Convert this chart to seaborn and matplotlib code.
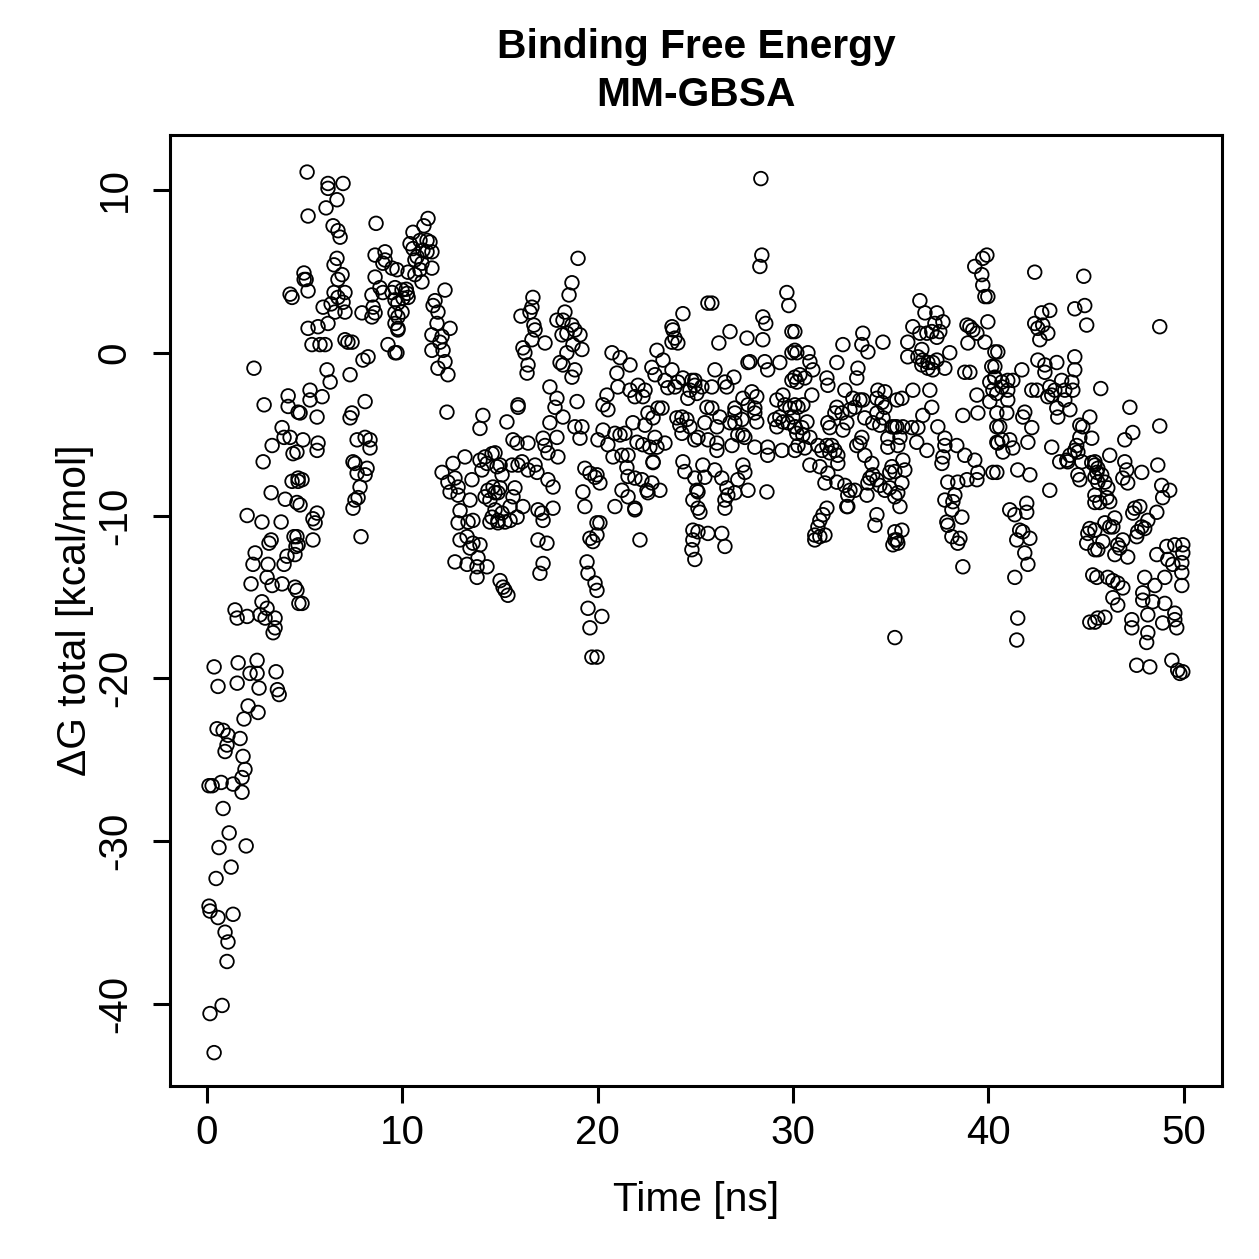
import matplotlib
matplotlib.use("Agg")
import matplotlib.pyplot as plt
import seaborn as sns
import pandas as pd

# (time [ns], dG total [kcal/mol]), grouped by time window
seg_00_05 = [
    (0.36, -19.3), (1.59, -19.05), (2.56, -18.9), (2.2, -19.7), (2.56, -19.7), (0.56, -20.5),
    (1.54, -20.3), (2.66, -20.6), (2.1, -21.7), (2.61, -22.1), (1.89, -22.5), (0.51, -23.1),
    (0.82, -23.2), (1.07, -23.5), (1.69, -23.7), (1.02, -24.1), (0.92, -24.5), (1.84, -24.8),
    (1.94, -25.6), (1.79, -26.1), (0.26, -26.6), (0.1, -26.6), (0.72, -26.4), (1.33, -26.5),
    (1.79, -27.0), (0.82, -28.0), (1.13, -29.5), (0.61, -30.4), (2.0, -30.3), (1.23, -31.6),
    (0.46, -32.3), (0.1, -34.0), (0.15, -34.3), (0.56, -34.7), (1.33, -34.5), (0.92, -35.6),
    (1.07, -36.2), (1.02, -37.4), (0.77, -40.1), (0.15, -40.6), (0.36, -43.0),
    (3.53, -19.6), (3.6, -20.7), (3.69, -21.0), (3.38, -17.2),
    (2.4, -0.95), (2.92, -3.2), (4.15, -2.65), (4.15, -3.3), (4.66, -3.65), (3.84, -4.6),
    (3.94, -5.2), (4.25, -5.2), (3.33, -5.7), (2.87, -6.7), (4.4, -6.2), (4.35, -7.9),
    (4.66, -7.7), (3.28, -8.6), (4.0, -9.0), (4.6, -9.2), (2.05, -10.0), (2.81, -10.4),
    (3.79, -10.4), (3.28, -11.5), (3.17, -11.7), (4.45, -11.3), (2.46, -12.3), (4.55, -11.9),
    (2.35, -13.0), (3.12, -13.0), (3.94, -13.0), (4.09, -12.5), (4.5, -12.4), (2.25, -14.2),
    (3.07, -13.8), (3.33, -14.3), (3.84, -14.2), (4.5, -14.4), (2.81, -15.3), (4.7, -15.4),
    (1.43, -15.8), (1.54, -16.3), (2.05, -16.2), (2.71, -16.1), (3.07, -15.7), (2.97, -16.3),
    (3.48, -16.3), (3.48, -16.9), (4.25, 3.6), (4.35, 3.4),
    (4.96, 4.9), (4.97, 4.5), (4.91, -5.35), (4.6, -6.1), (4.86, -7.8), (4.66, -7.9),
    (4.76, -9.35), (4.6, -11.3), (4.66, -11.8), (4.6, -14.6), (4.86, -15.4), (4.76, -3.7),
]

seg_05_10 = [
    (5.12, 11.1), (6.19, 10.4), (6.19, 10.1), (6.96, 10.4), (6.65, 9.4), (6.09, 8.9),
    (5.17, 8.4), (6.45, 7.8), (6.7, 7.5), (6.81, 7.1), (8.65, 7.95), (6.65, 5.8),
    (6.5, 5.4), (6.91, 4.8), (6.7, 4.5), (5.07, 4.5), (5.17, 3.8), (8.6, 6.0),
    (9.11, 6.2), (9.0, 5.5), (9.47, 5.2), (8.6, 4.65), (8.85, 4.0), (9.11, 5.7),
    (6.5, 3.7), (7.06, 3.7), (6.96, 3.1), (6.7, 3.4), (6.35, 3.0), (5.94, 2.8),
    (6.55, 2.5), (7.06, 2.5), (8.44, 3.55), (8.5, 2.8), (8.6, 2.45), (8.44, 2.2),
    (7.93, 2.45), (9.0, 3.7), (9.47, 3.7), (9.62, 3.25), (9.62, 2.45), (9.62, 1.8),
    (9.77, 1.4), (9.26, 0.5), (9.62, 0.0), (5.17, 1.5), (5.68, 1.6), (6.19, 1.8),
    (5.37, 0.5), (5.78, 0.5), (6.04, 0.5), (7.06, 0.8), (7.21, 0.65), (7.42, 0.65),
    (7.98, -0.45), (8.24, -0.25), (6.14, -1.05), (6.3, -1.8), (7.32, -1.35), (5.27, -2.3),
    (5.27, -2.9), (5.89, -2.7), (8.09, -3.0), (7.42, -3.7), (7.32, -4.0), (5.63, -3.95),
    (5.68, -5.55), (5.63, -6.0), (7.68, -5.35), (8.09, -5.2), (8.34, -5.35), (8.34, -5.85),
    (7.47, -6.7), (7.57, -6.8), (8.19, -7.1), (8.09, -7.5), (7.68, -7.4), (7.83, -8.25),
    (7.57, -9.05), (7.73, -8.9), (7.47, -9.55), (5.42, -10.2), (5.63, -9.85), (5.53, -10.45),
    (5.42, -11.5), (7.88, -11.3),
    (11.31, 8.25), (9.72, 5.1), (9.62, 4.0), (9.98, 3.85), (9.77, 3.05), (9.98, 2.5),
    (9.77, 2.2), (9.77, 1.5), (9.72, 0.0),
]

seg_10_15 = [
    (11.1, 7.8), (10.54, 7.4), (10.39, 6.7), (10.54, 6.4), (10.9, 6.9), (11.26, 6.9),
    (11.41, 6.8), (11.05, 6.3), (10.75, 5.9), (11.26, 6.2), (11.51, 6.2), (10.64, 5.7),
    (11.0, 5.5), (11.51, 5.2), (10.9, 5.1), (10.64, 4.8), (11.0, 4.35), (10.29, 4.95),
    (10.24, 3.65), (10.29, 3.4), (10.03, 3.35), (10.2, 3.9),
    (12.18, 3.85), (11.67, 3.2), (11.57, 2.9), (11.82, 2.5), (11.77, 1.8), (12.44, 1.5),
    (11.51, 1.1), (12.03, 1.0), (11.92, 0.65), (11.51, 0.15), (12.08, 0.15), (12.18, -0.55),
    (11.82, -0.95), (12.33, -1.35), (12.28, -3.65), (14.12, -3.85), (13.97, -4.65),
    (12.03, -7.35), (12.59, -6.8), (13.2, -6.4), (12.33, -7.95), (12.69, -7.7), (12.85, -8.25),
    (13.56, -7.8), (12.44, -8.55), (12.85, -8.75), (13.46, -9.05), (12.95, -9.7), (12.85, -10.45),
    (13.36, -10.4), (13.61, -10.3), (12.95, -11.5), (13.31, -11.3), (13.61, -11.7), (13.97, -11.8),
    (13.46, -12.0), (12.69, -12.85), (13.31, -13.0), (13.82, -13.15), (14.33, -13.15), (13.82, -13.8),
    (13.87, -12.6), (13.97, -6.6), (14.23, -6.4), (14.59, -6.2), (14.33, -6.8), (14.84, -7.0),
    (14.07, -7.2), (14.38, -8.45), (14.64, -8.25), (14.74, -8.6), (14.23, -8.85), (14.48, -9.05),
    (14.74, -9.65), (14.59, -10.1), (14.48, -10.4), (14.89, -10.45), (15.0, -14.0),
    (14.74, -6.15), (14.89, -8.6), (14.89, -10.3),
]

seg_15_20 = [
    (18.99, 5.8), (18.68, 4.3), (18.53, 3.55), (16.68, 3.4), (16.63, 2.8), (16.53, 2.5),
    (16.07, 2.25), (16.73, 1.7), (16.79, 1.4), (16.63, 0.8), (17.3, 0.6), (16.17, 0.3),
    (16.27, 0.0), (16.43, -0.75), (16.38, -1.25), (17.91, 2.0), (18.32, 2.5), (18.22, 2.0),
    (18.68, 1.7), (18.83, 1.4), (18.17, 1.1), (18.42, 1.2), (19.09, 1.1), (18.73, 0.5),
    (19.19, 0.2), (18.42, 0.0), (18.07, -0.6), (18.22, -0.75), (18.83, -1.05), (18.68, -1.5),
    (17.55, -2.1), (17.91, -2.8), (17.81, -3.35), (18.22, -3.95), (17.55, -4.3), (18.94, -3.0),
    (18.83, -4.55), (19.19, -4.55), (19.09, -5.25), (15.92, -3.2), (15.92, -3.35), (15.35, -4.25),
    (15.66, -5.35), (15.87, -5.55), (16.43, -5.55), (17.2, -5.25), (17.3, -5.7), (17.91, -5.2),
    (17.45, -6.15), (17.96, -6.4), (15.0, -6.9), (15.1, -7.5), (15.61, -6.9), (16.12, -6.7),
    (15.92, -6.9), (16.43, -7.2), (16.89, -7.35), (16.79, -6.9), (15.0, -8.3), (15.76, -8.3),
    (15.66, -8.85), (15.51, -9.45), (16.17, -9.45), (15.1, -9.85), (15.25, -10.4), (15.51, -10.3),
    (15.87, -10.1), (16.94, -9.65), (17.2, -10.3), (17.14, -9.85), (17.71, -9.55), (17.45, -7.8),
    (17.71, -8.25), (16.94, -11.5), (17.4, -11.7), (17.2, -12.95), (17.04, -13.55), (15.15, -14.4),
    (15.25, -14.6), (15.4, -14.9), (19.34, -7.1), (19.6, -7.4), (19.86, -7.65), (19.24, -8.55),
    (19.34, -9.45), (19.96, -10.45), (19.6, -11.4), (19.75, -11.6), (19.45, -12.85), (19.5, -13.55),
    (19.86, -14.15), (19.96, -14.6), (19.5, -15.7), (19.6, -16.9), (19.7, -18.7), (19.96, -18.7),
    (20.21, -16.2),
]

seg_20_25 = [
    (24.36, 2.4), (23.8, 1.6), (23.85, 1.4), (23.95, 0.9), (24.1, 0.6), (23.8, 0.65),
    (20.73, 0.0), (21.14, -0.3), (21.65, -0.75), (23.03, 0.15), (23.34, -0.45), (22.77, -0.9),
    (23.8, -1.05), (22.93, -1.35), (20.98, -1.25), (21.03, -2.1), (21.65, -2.3), (22.06, -2.0),
    (22.42, -2.3), (22.31, -2.7), (21.9, -2.7), (23.44, -1.7), (23.59, -2.15), (23.95, -2.1),
    (24.1, -1.8), (24.36, -1.55), (24.82, -1.7), (24.72, -2.3), (24.61, -2.8), (24.97, -2.0),
    (20.47, -2.6), (20.27, -3.2), (20.52, -3.5), (23.29, -3.4), (23.08, -3.4), (22.57, -3.7),
    (22.83, -4.0), (22.42, -4.45), (21.8, -4.3), (21.39, -4.95), (21.14, -5.05), (20.88, -4.95),
    (20.27, -4.75), (20.01, -5.35), (20.52, -5.65), (20.78, -6.4), (21.24, -6.3), (21.55, -6.3),
    (22.01, -5.5), (22.31, -5.65), (22.67, -5.8), (23.03, -5.8), (22.93, -5.2), (23.44, -5.55),
    (24.05, -4.0), (24.31, -3.95), (24.56, -4.1), (24.2, -4.45), (24.72, -4.55), (24.31, -4.95),
    (24.97, -5.35), (24.36, -6.7), (24.46, -7.3), (22.83, -6.7), (22.83, -6.75), (21.49, -7.05),
    (21.55, -7.6), (21.9, -7.7), (22.26, -7.8), (21.24, -8.45), (21.55, -8.85), (21.9, -9.55),
    (21.9, -9.65), (22.52, -8.45), (22.77, -8.0), (23.18, -8.45), (22.57, -8.6), (20.88, -9.45),
    (19.96, -7.5), (20.11, -8.0), (24.97, -7.7), (25.07, -8.45), (24.87, -9.05), (25.13, -9.55),
    (20.11, -10.45), (19.96, -11.2), (22.16, -11.5), (24.87, -10.9), (24.87, -11.5), (24.82, -12.1),
]

seg_25_30 = [
    (28.35, 10.7), (28.4, 6.0), (28.3, 5.3), (25.64, 3.05), (25.84, 3.05), (29.68, 3.7),
    (29.78, 2.9), (28.45, 2.2), (28.6, 1.8), (26.77, 1.3), (27.64, 0.9), (28.45, 0.8),
    (26.2, 0.6), (29.94, 1.3), (27.69, -0.6), (27.79, -0.55), (28.55, -0.55), (28.7, -1.05),
    (29.32, -0.6), (29.94, 0.0), (30.09, 0.15), (29.94, -1.7), (30.09, -1.5), (26.0, -1.05),
    (26.97, -1.5), (26.51, -1.8), (26.61, -2.1), (24.97, -1.7), (25.33, -2.1), (25.84, -2.1),
    (25.07, -2.5), (27.89, -2.4), (28.14, -2.7), (27.43, -2.8), (27.69, -3.2), (27.02, -3.4),
    (28.04, -3.4), (28.04, -3.7), (27.02, -3.7), (27.38, -4.1), (28.14, -4.25), (25.59, -3.35),
    (25.84, -3.4), (26.25, -3.95), (25.48, -4.3), (26.1, -4.55), (26.77, -4.3), (27.02, -4.3),
    (29.17, -2.9), (29.48, -2.6), (29.58, -3.2), (29.32, -3.95), (29.07, -4.1), (29.48, -4.25),
    (29.17, -4.55), (29.73, -4.3), (29.99, -3.95), (30.09, -4.55), (30.09, -3.2), (29.84, -3.4),
    (25.13, -5.2), (25.64, -5.35), (26.1, -5.55), (26.1, -6.0), (26.87, -5.7), (27.17, -5.05),
    (27.43, -5.05), (27.53, -5.2), (28.04, -5.8), (28.7, -5.8), (28.7, -6.3), (29.43, -6.0),
    (30.09, -6.0), (25.38, -6.9), (25.48, -7.65), (25.99, -7.2), (26.35, -7.7), (26.61, -8.3),
    (26.51, -9.05), (26.66, -8.75), (27.17, -7.8), (27.43, -6.9), (27.53, -7.35), (27.69, -8.45),
    (27.02, -8.6), (28.66, -8.55), (25.13, -8.55), (25.23, -9.8), (26.51, -9.55), (25.13, -11.0),
    (25.64, -11.1), (26.35, -11.1), (26.51, -11.9), (24.97, -12.7),
]

seg_30_35 = [
    (33.57, 1.2), (33.52, 0.5), (33.83, 0.05), (34.6, 0.65), (32.55, 0.5), (32.24, -0.6),
    (33.32, -0.95), (33.26, -1.55), (30.09, 1.3), (30.19, 0.0), (30.76, 0.0), (30.86, -0.55),
    (31.01, -1.05), (30.35, -1.35), (30.6, -1.55), (30.19, -1.8), (30.25, -3.35), (30.96, -2.6),
    (30.5, -3.2), (31.73, -1.55), (31.78, -2.0), (32.65, -2.3), (32.24, -3.35), (32.14, -3.7),
    (32.5, -3.7), (32.75, -4.3), (31.78, -4.3), (31.88, -4.6), (32.55, -4.75), (33.06, -2.8),
    (33.42, -2.9), (33.57, -2.9), (33.16, -3.35), (32.91, -3.5), (33.67, -4.0), (34.08, -4.3),
    (34.44, -4.45), (33.52, -5.2), (33.26, -5.7), (33.42, -5.55), (34.34, -2.3), (34.7, -2.4),
    (34.29, -2.8), (34.55, -3.05), (34.7, -3.35), (34.29, -3.7), (34.6, -4.0), (35.06, -4.55),
    (35.31, -4.55), (34.85, -5.25), (35.36, -5.7), (35.31, -2.9),
    (30.09, -4.55), (30.45, -4.6), (30.71, -4.25), (30.19, -4.95), (30.5, -5.05), (30.25, -5.7),
    (30.6, -5.85), (30.86, -5.2), (31.27, -5.7), (31.47, -6.0), (31.73, -5.7), (31.98, -5.7),
    (32.14, -6.0), (31.88, -6.15), (32.29, -6.3), (32.29, -6.8), (30.86, -6.9), (31.37, -7.0),
    (31.78, -7.4), (31.63, -8.0), (32.24, -7.95), (32.65, -8.15), (32.91, -8.45), (33.16, -8.45),
    (32.8, -8.75), (32.75, -9.45), (33.78, -8.75), (33.67, -6.3), (34.03, -6.8), (33.93, -7.7),
    (34.08, -7.5), (34.29, -7.8), (33.83, -8.0), (34.44, -8.15), (34.7, -8.45), (34.95, -8.3),
    (35.21, -8.85), (35.06, -7.0), (35.21, -7.3), (34.95, -7.35), (34.85, -5.8),
    (31.73, -9.55), (31.53, -9.95), (31.37, -10.3), (31.27, -10.7), (31.11, -11.2), (31.11, -11.5),
    (31.37, -11.3), (31.63, -11.2), (32.8, -9.45), (34.29, -9.95), (34.19, -10.6), (35.21, -11.0),
    (35.21, -11.5), (35.11, -11.8), (35.21, -17.5),
]

seg_35_40 = [
    (39.92, 6.0), (39.71, 5.8), (39.3, 5.3), (39.66, 4.8), (39.71, 4.15), (39.82, 3.45),
    (39.97, 3.45), (36.49, 3.2), (36.75, 2.45), (37.36, 2.45), (37.67, 1.9), (37.26, 1.8),
    (36.13, 1.6), (36.49, 1.2), (36.85, 1.2), (37.1, 1.3), (37.36, 0.95), (37.51, 1.3),
    (35.87, 0.65), (35.87, -0.25), (36.39, -0.25), (36.59, 0.2), (36.64, -0.45), (36.59, -0.75),
    (36.9, -0.6), (37.15, -0.6), (37.36, -0.45), (36.9, -0.95), (37.15, -1.05), (37.77, -0.95),
    (38.02, 0.0), (38.9, 1.7), (39.05, 1.6), (39.2, 1.4), (39.41, 1.2), (38.95, 0.6),
    (39.82, 0.65), (39.97, 1.9), (38.79, -1.2), (39.05, -1.2), (40.33, 0.05), (40.17, -0.85),
    (40.33, -1.5), (40.07, -1.8), (40.23, -2.3), (40.07, -3.0), (40.43, -3.7), (40.43, -4.55),
    (40.43, -5.5), (36.13, -2.3), (35.57, -2.8), (37.0, -2.3), (37.1, -3.35), (36.64, -3.85),
    (38.69, -3.85), (39.41, -2.6), (39.46, -3.7), (35.21, -4.55), (35.62, -4.55), (36.08, -4.6),
    (36.39, -4.6), (35.47, -5.2), (36.33, -5.5), (36.85, -6.0), (37.41, -4.55), (37.77, -5.25),
    (37.77, -5.7), (38.38, -5.7), (38.79, -6.3), (39.3, -6.6), (37.67, -6.4), (37.62, -6.8),
    (35.62, -6.6), (35.72, -7.2), (35.57, -8.0), (35.36, -8.6), (35.47, -9.45), (35.57, -10.9),
    (35.31, -11.5), (35.36, -11.7), (37.92, -7.95), (38.43, -7.95), (38.9, -7.8), (39.41, -7.8),
    (39.46, -7.35), (40.23, -7.35), (37.77, -9.05), (38.28, -8.75), (38.18, -9.15), (38.13, -9.65),
    (38.64, -10.1), (37.87, -10.4), (37.92, -10.6), (38.13, -11.3), (38.54, -11.4), (38.43, -11.7),
    (38.69, -13.15),
]

seg_40_45 = [
    (42.37, 4.95), (44.88, 4.7), (42.73, 2.45), (43.14, 2.6), (42.37, 1.8), (42.53, 1.5),
    (42.78, 1.7), (43.04, 1.2), (42.63, 0.8), (44.42, 2.7), (44.93, 2.9), (45.03, 1.7),
    (40.48, 0.05), (40.33, -0.85), (40.33, -1.55), (40.69, -1.8), (40.99, -1.7), (41.25, -1.7),
    (40.99, -2.3), (40.69, -2.1), (40.43, -2.5), (40.99, -2.9), (40.94, -3.7), (40.58, -4.55),
    (40.69, -5.35), (41.09, -5.35), (40.48, -5.55), (40.74, -6.1), (41.25, -5.85), (40.43, -7.35),
    (41.71, -1.05), (42.22, -2.3), (42.48, -2.3), (42.53, -0.45), (42.89, -0.75), (42.89, -1.2),
    (43.5, -0.6), (43.14, -2.1), (43.4, -2.3), (43.24, -2.6), (43.75, -1.7), (43.91, -2.3),
    (44.27, -1.8), (44.32, -2.3), (44.42, -1.05), (44.42, -0.25), (43.91, -2.9), (44.17, -3.5),
    (43.5, -3.4), (43.55, -3.95), (43.04, -2.7), (41.86, -3.65), (41.76, -3.95), (42.22, -4.6),
    (42.02, -5.5), (44.68, -4.45), (44.83, -4.55), (45.19, -3.95), (45.29, -5.25), (44.68, -5.2),
    (44.52, -5.7), (44.42, -6.0), (44.58, -6.1), (43.24, -5.8), (44.17, -6.3), (44.01, -6.6),
    (44.06, -6.7), (43.65, -6.7), (44.58, -7.5), (44.68, -7.8), (44.78, -6.7), (45.29, -6.75),
    (45.45, -6.9), (45.55, -7.35), (45.45, -7.65), (45.6, -7.95), (41.5, -7.2), (42.12, -7.5),
    (43.14, -8.45), (41.09, -9.65), (41.35, -9.95), (41.96, -9.25), (41.96, -9.8), (41.6, -10.9),
    (41.45, -11.5), (41.76, -11.0), (42.12, -11.4), (41.86, -12.3), (42.02, -13.0), (41.35, -13.8),
    (41.5, -16.3), (41.45, -17.65), (45.45, -9.2), (45.19, -10.8), (45.09, -11.1), (45.03, -11.7),
    (45.45, -12.1), (45.34, -13.65), (45.19, -16.55), (45.6, -16.3),
]

seg_45_50 = [
    (48.77, 1.6), (45.75, -2.2), (47.24, -3.35), (47.39, -4.9), (46.98, -5.35), (48.77, -4.5),
    (46.21, -6.3), (45.45, -6.7), (45.6, -7.1), (45.8, -7.5), (45.96, -7.95), (46.11, -8.3),
    (46.06, -8.9), (46.21, -9.15), (45.7, -9.2), (45.45, -8.75), (45.45, -10.9), (45.96, -10.45),
    (46.47, -10.15), (46.37, -10.7), (46.21, -10.7), (46.98, -6.7), (47.08, -7.2), (46.88, -7.7),
    (47.13, -8.0), (47.85, -7.35), (48.67, -6.9), (48.87, -8.15), (49.28, -8.45), (48.92, -8.9),
    (47.49, -9.55), (47.75, -9.45), (47.39, -9.85), (48.16, -10.3), (48.62, -9.8), (48.0, -10.8),
    (47.64, -11.0), (47.59, -11.3), (47.85, -10.7), (46.88, -11.5), (45.86, -11.6), (45.6, -12.1),
    (46.72, -12.0), (46.62, -11.8), (47.13, -12.55), (46.47, -12.4), (45.55, -13.8),
    (48.62, -12.4), (49.13, -11.9), (49.54, -11.8), (49.95, -11.8), (49.18, -12.7), (49.9, -12.9),
    (49.44, -13.0), (49.03, -13.8), (48.52, -14.3), (49.9, -14.3), (48.0, -13.8), (47.9, -14.75),
    (47.9, -15.2), (48.41, -15.3), (49.03, -15.4), (48.16, -16.1), (48.92, -16.6), (49.54, -16.0),
    (49.54, -16.4), (49.64, -16.9), (46.11, -13.8), (46.37, -14.0), (46.62, -14.15), (46.88, -14.45),
    (46.37, -15.05), (46.62, -15.5), (45.96, -16.25), (47.34, -16.4), (47.34, -16.9), (45.45, -16.55),
    (48.16, -17.2), (48.1, -17.8), (47.59, -19.2), (48.26, -19.3), (49.39, -18.9), (49.69, -19.5),
    (49.8, -19.7), (49.95, -19.6), (49.95, -12.3), (49.9, -13.5),
]

segments = [seg_00_05, seg_05_10, seg_10_15, seg_15_20, seg_20_25,
            seg_25_30, seg_30_35, seg_35_40, seg_40_45, seg_45_50]
df = pd.DataFrame([p for seg in segments for p in seg], columns=["time", "dg"])

sns.set_style("ticks")
plt.rcParams["font.family"] = ["Liberation Sans", "DejaVu Sans"]
plt.rcParams["axes.unicode_minus"] = False
plt.rcParams["text.color"] = "black"

fig = plt.figure(figsize=(1259 / 200, 1259 / 200), dpi=200)
ax = fig.add_axes([0.135, 0.1374, 0.8355, 0.7554])

sns.scatterplot(data=df, x="time", y="dg", ax=ax, marker="o", s=24,
                facecolor="none", edgecolor="black", linewidth=0.65)

ax.set_xlim(-1.9, 51.95)
ax.set_ylim(-45.05, 13.38)
ax.set_xticks([0, 10, 20, 30, 40, 50])
ax.set_yticks([-40, -30, -20, -10, 0, 10])
ax.set_xlabel("")
ax.set_ylabel("")
for sp in ax.spines.values():
    sp.set_visible(True)
    sp.set_linewidth(1.1)
    sp.set_color("black")
ax.tick_params(axis="both", length=6, width=1.1, color="black", labelsize=14.5, labelcolor="black")
ax.tick_params(axis="x", pad=4)
ax.tick_params(axis="y", pad=7)
for lab in ax.get_yticklabels():
    lab.set_rotation(90)
    lab.set_va("center")

fig.text(0.5528, 0.9627, "Binding Free Energy", ha="center", va="center",
         fontsize=14.7, fontweight="bold", color="black")
fig.text(0.5528, 0.9245, "MM-GBSA", ha="center", va="center",
         fontsize=14.7, fontweight="bold", color="black")
fig.text(0.5528, 0.0469, "Time [ns]", ha="center", va="center", fontsize=14.7, color="black")
fig.text(0.0596, 0.5155, "\u0394G total [kcal/mol]", ha="center", va="center",
         rotation=90, fontsize=14.7, color="black")

fig.savefig("out.png", dpi=200)
